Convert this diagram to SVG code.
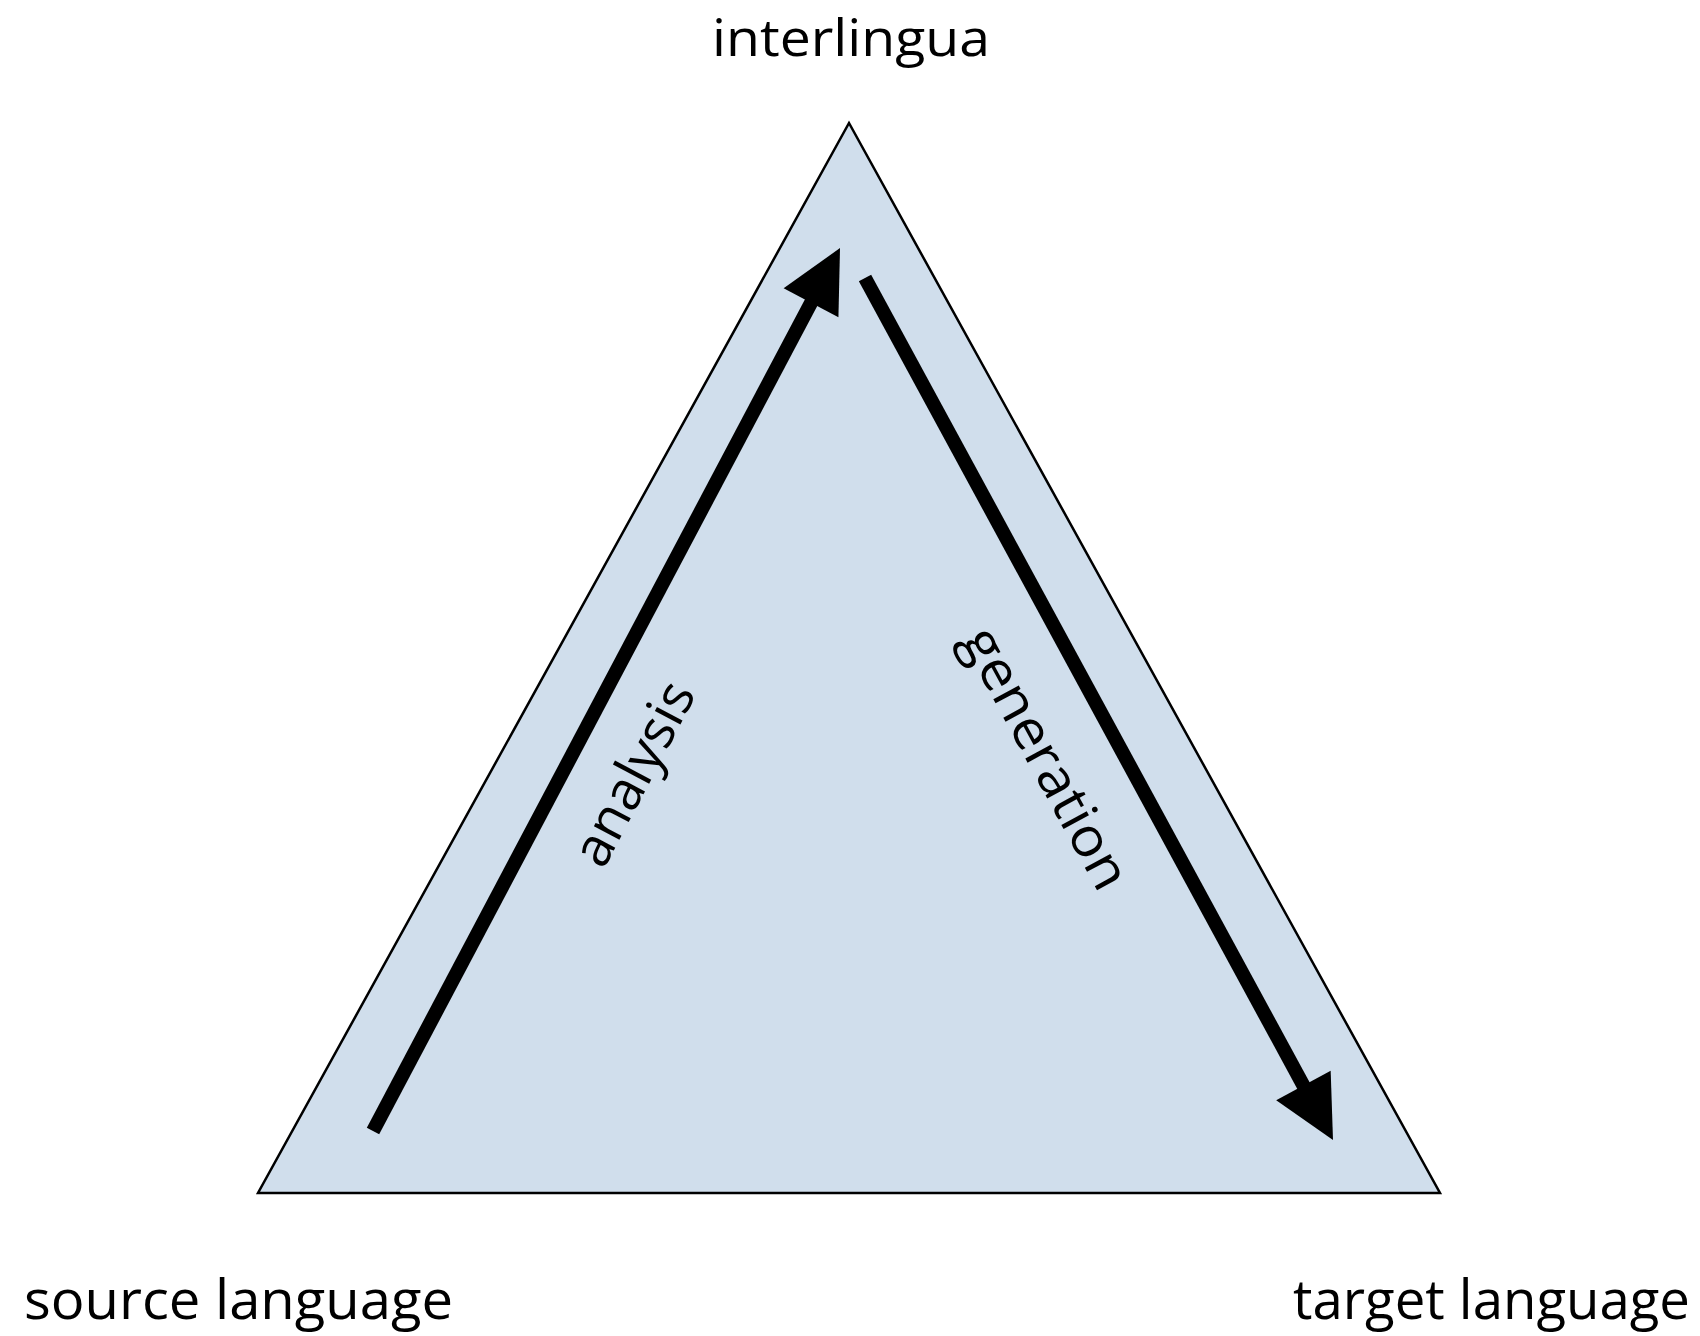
<svg xmlns="http://www.w3.org/2000/svg" width="1700" height="1336" viewBox="0 0 1700 1336">
  <style>
    .label { font-family: "Open Sans", "Liberation Sans", sans-serif; fill: #000; }
    .corner { font-size: 55px; }
    .top { font-size: 52px; }
    .side { font-size: 54px; }
    .flow { fill: none; stroke: #000; stroke-width: 14; stroke-linecap: butt; }
  </style>
  <defs>
    <marker id="head" markerUnits="userSpaceOnUse" markerWidth="62" markerHeight="62" refX="10" refY="31" orient="auto" overflow="visible">
      <path d="M0,0 L62,31 L0,62 Z" fill="#000"/>
    </marker>
  </defs>
  <rect width="1700" height="1336" fill="#fff"/>

  <!-- Triangle of the translation pyramid -->
  <g id="pyramid">
    <polygon points="849,123 1440,1193 258,1193" fill="#d0deec" stroke="#000" stroke-width="2.5" stroke-linejoin="miter"/>
  </g>

  <!-- Corner labels -->
  <g id="interlingua">
    <text class="label top" x="851" y="56" text-anchor="middle" textLength="278" lengthAdjust="spacingAndGlyphs">interlingua</text>
  </g>
  <g id="source-language">
    <text class="label corner" x="24" y="1319" textLength="429" lengthAdjust="spacingAndGlyphs">source language</text>
  </g>
  <g id="target-language">
    <text class="label corner" x="1293" y="1319" textLength="397" lengthAdjust="spacingAndGlyphs">target language</text>
  </g>

  <!-- Connectors -->
  <g id="connectors">
    <line id="analysis-arrow" class="flow" x1="373" y1="1131" x2="815.7" y2="294" marker-end="url(#head)"/>
    <line id="generation-arrow" class="flow" x1="865" y1="278" x2="1308.2" y2="1094.3" marker-end="url(#head)"/>
    <text class="label side" transform="translate(650,782) rotate(-62.1)" text-anchor="middle" textLength="200" lengthAdjust="spacingAndGlyphs">analysis</text>
    <text class="label side" transform="translate(1030,767) rotate(61.5)" text-anchor="middle" textLength="290" lengthAdjust="spacingAndGlyphs">generation</text>
  </g>
</svg>
